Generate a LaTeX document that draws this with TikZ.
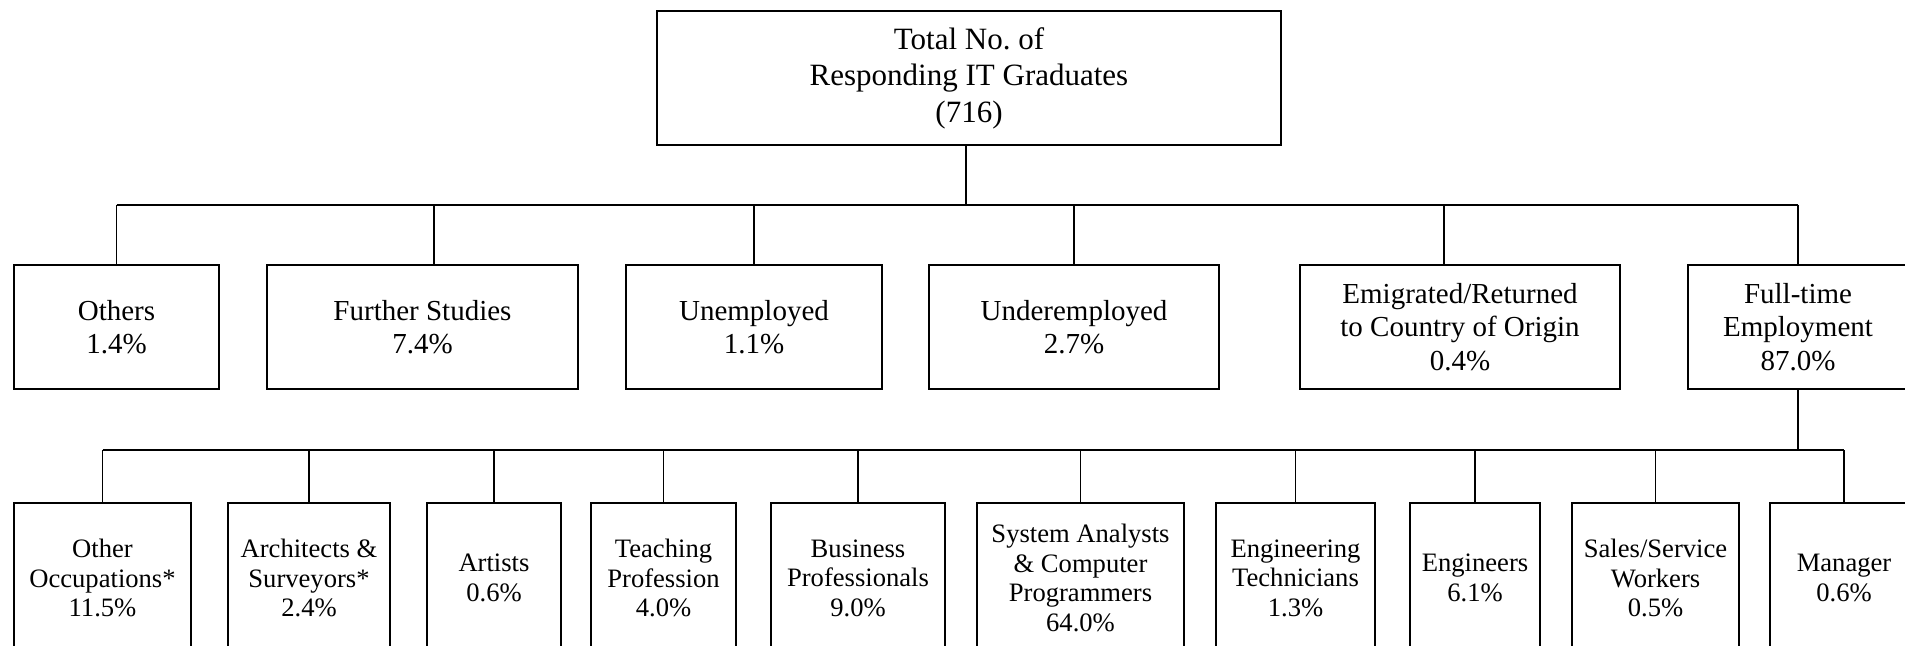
\documentclass[tikz,border=0pt]{standalone}
\usepackage{fontspec}
\setmainfont{Liberation Serif}
\frenchspacing
\begin{document}
\begin{tikzpicture}[x=0.5pt,y=-0.5pt,
  box/.style={draw, line width=1pt, align=center, inner sep=0pt},
  topbox/.style={box, font=\fontsize{15.5}{18.3}\selectfont},
  midbox/.style={box, minimum height=62pt, font=\fontsize{14.5}{16.8}\selectfont},
  lowbox/.style={box, minimum height=75pt, font=\fontsize{13.3}{14.8}\selectfont},
  bus/.style={line width=1pt},
  drop/.style={line width=0.75pt}]
\useasboundingbox (0,0) rectangle (1905,646);
\clip (0,0) rectangle (1905,646);

% top
\node[topbox, minimum width=312pt, minimum height=67pt] (top) at (969,78) {Total No.\ of\\Responding IT Graduates\\(716)};

% second row
\node[midbox, minimum width=102.5pt] (others) at (116.5,327) {Others\\1.4\%};
\node[midbox, minimum width=155.5pt] (further) at (422.5,327) {Further Studies\\7.4\%};
\node[midbox, minimum width=128pt] (unemp) at (754,327) {Unemployed\\1.1\%};
\node[midbox, minimum width=145pt] (under) at (1074,327) {Underemployed\\2.7\%};
\node[midbox, minimum width=160pt] (emig) at (1460,327) {Emigrated/Returned\\to Country of Origin\\0.4\%};
\node[midbox, minimum width=110pt] (full) at (1798,327) {Full-time\\Employment\\87.0\%};

% third row
\node[lowbox, minimum width=88.5pt] (oo) at (102.5,578) {Other\\Occupations*\\11.5\%};
\node[lowbox, minimum width=81pt] (arch) at (309,578) {Architects \&\\Surveyors*\\2.4\%};
\node[lowbox, minimum width=67pt] (art) at (494,578) {Artists\\0.6\%};
\node[lowbox, minimum width=72.5pt] (teach) at (663.5,578) {Teaching\\Profession\\4.0\%};
\node[lowbox, minimum width=87pt] (busi) at (858,578) {Business\\Professionals\\9.0\%};
\node[lowbox, minimum width=103.5pt] (sys) at (1080.5,578) {System Analysts\\\& Computer\\Programmers\\64.0\%};
\node[lowbox, minimum width=79.5pt] (et) at (1295.5,578) {Engineering\\Technicians\\1.3\%};
\node[lowbox, minimum width=65pt] (eng) at (1475,578) {Engineers\\6.1\%};
\node[lowbox, minimum width=83.5pt] (sales) at (1655.5,578) {Sales/Service\\Workers\\0.5\%};
\node[lowbox, minimum width=74pt] (mgr) at (1844,578) {Manager\\0.6\%};

% bus levels
\coordinate (b1) at (966,205);
\coordinate (b2) at (1798,450);
\coordinate (fsd) at (434,205);
\coordinate (emd) at (1444,205);

% first level connectors
\draw[bus] (top.south -| b1) -- (b1);
\draw[bus] (others.north |- b1) -- (full.north |- b1);
\foreach \n in {others,unemp,under,full}
  \draw[drop] (\n.north |- b1) -- (\n.north);
\draw[drop] (fsd) -- (fsd |- further.north);
\draw[drop] (emd) -- (emd |- emig.north);

% second level connectors
\draw[drop] (full.south) -- (b2);
\draw[bus] (oo.north |- b2) -- (mgr.north |- b2);
\foreach \n in {oo,arch,art,teach,busi,sys,et,eng,sales,mgr}
  \draw[drop] (\n.north |- b2) -- (\n.north);
\end{tikzpicture}
\end{document}
